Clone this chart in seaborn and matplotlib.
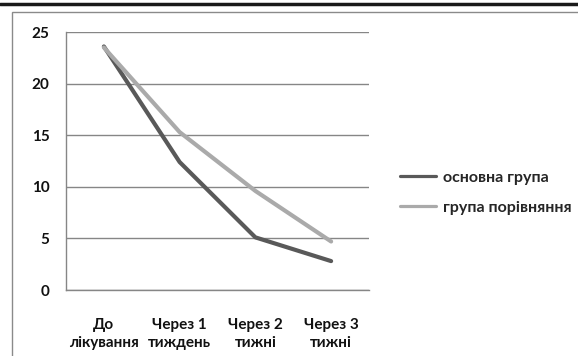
import matplotlib
matplotlib.use("Agg")
import matplotlib.pyplot as plt
import seaborn as sns
import pandas as pd
import numpy as np
from matplotlib.lines import Line2D
from matplotlib.patches import Rectangle

categories = ["До\nлікування", "Через 1\nтиждень", "Через 2\nтижні", "Через 3\nтижні"]
series_names = ["основна група", "група порівняння"]
main_group = [23.6, 12.4, 5.1, 2.8]
comparison_group = [23.5, 15.3, 9.6, 4.7]
y_ticks = [0, 5, 10, 15, 20, 25]

rows = []
for i, c in enumerate(categories):
    rows.append({"x": i, "value": main_group[i], "group": series_names[0]})
    rows.append({"x": i, "value": comparison_group[i], "group": series_names[1]})
df = pd.DataFrame(rows)

sns.set_style("white")
plt.rcParams['font.family'] = ['Lato', 'DejaVu Sans']

FS = 11
fig = plt.figure(figsize=(5.78, 3.56), dpi=100)
ax = fig.add_axes([66/578, 1-290/356, (369-66)/578, (290-32)/356])

palette = {series_names[0]: "#595959", series_names[1]: "#aaaaaa"}
sns.lineplot(data=df, x="x", y="value", hue="group", palette=palette,
             linewidth=3.0, ax=ax, legend=False, zorder=3)

ax.set_xlim(-0.5, len(categories) - 0.5)
ax.set_ylim(0, 25)
ax.set_yticks(y_ticks)
ax.set_yticklabels([str(t) for t in y_ticks], fontsize=FS, fontweight="bold", color="#111111")
ax.set_xticks(range(len(categories)))
ax.set_xticklabels(categories, fontsize=FS, fontweight="bold", color="#111111", linespacing=1.35)
ax.set_xticks(np.arange(-0.5, len(categories), 1.0), minor=True)
ax.tick_params(axis="x", which="major", length=0, pad=20)
ax.tick_params(axis="x", which="minor", length=5, color="#868686", width=1, direction="out")
ax.tick_params(axis="y", length=5, color="#868686", width=1, direction="out", pad=7)
ax.set_xlabel("")
ax.set_ylabel("")
ax.grid(axis="y", color="#868686", linewidth=1)
for s in ["top", "right"]:
    ax.spines[s].set_visible(False)
for s in ["left", "bottom"]:
    ax.spines[s].set_color("#868686")
    ax.spines[s].set_linewidth(1)

handles = [Line2D([0], [0], color=palette[n], lw=2.3) for n in series_names]
fig.legend(handles, series_names, loc="center left", bbox_to_anchor=(386/578, 1-192.5/356),
           frameon=False, handlelength=2.2, handletextpad=0.45,
           labelspacing=1.0, prop={"weight": "bold", "size": FS + 0.5})

# outer frame and top rule
fig.patches.append(Rectangle((12/578, -0.05), 1.0, 1-12/356+0.05, transform=fig.transFigure,
                             fill=False, edgecolor="#8a8a8a", linewidth=1, zorder=0))
fig.lines.append(Line2D([0, 1], [1-4/356, 1-4/356], transform=fig.transFigure,
                        color="#1a1a1a", linewidth=2.5))

fig.savefig("out.png", dpi=100)
